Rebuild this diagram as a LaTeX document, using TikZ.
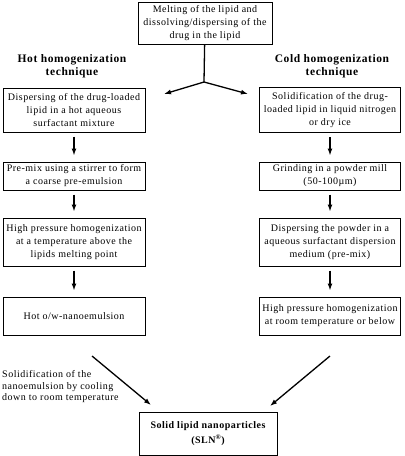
\documentclass[tikz,border=0pt]{standalone}
\usepackage{fontspec}
\setmainfont{Liberation Serif}[LetterSpace=5]
\usepackage{tikz}
\usetikzlibrary{calc,arrows.meta}

\tikzset{
  stage/.style={draw=black, line width=1pt, align=center, inner sep=1pt, font=\fontsize{10}{13}\selectfont},
  heading/.style={align=center, font=\bfseries\fontsize{11.5}{12.5}\selectfont},
  flow/.style={-{Latex[length=7pt,width=5pt]}, black, line width=1.3pt}
}

\begin{document}
\begin{tikzpicture}[x=1pt, y=-1pt]
  \useasboundingbox (0,0) rectangle (405,456);
  % Draw the starting box and the two headings
  \node[stage, minimum width=134pt, minimum height=42pt] (melt) at (205,23) {Melting of the lipid and\\dissolving/dispersing of the\\drug in the lipid};
  \node[heading] (hot) at (72,66) {Hot homogenization\\technique};
  \node[heading] (cold) at (332,66) {Cold homogenization\\technique};
  % Draw the split
  \coordinate (split) at (204,82);
  \coordinate (tohot) at (164,94);
  \coordinate (tocold) at (248,94);
  \draw[black, line width=1.3pt] (melt) -- (split);
  \draw[flow] (split) -- (tohot);
  \draw[flow] (split) -- (tocold);
  % Hot column
  \node[stage, minimum width=142pt, minimum height=44pt] (h1) at (74,110) {Dispersing of the drug-loaded\\lipid in a hot aqueous\\surfactant mixture};
  \node[stage, minimum width=142pt, minimum height=28pt] (h2) at (74,176) {Pre-mix using a stirrer to form\\a coarse pre-emulsion};
  \node[stage, minimum width=142pt, minimum height=48pt] (h3) at (74,242) {High pressure homogenization\\at a temperature above the\\lipids melting point};
  \node[stage, minimum width=142pt, minimum height=38pt] (h4) at (74,316) {Hot o/w-nanoemulsion};
  % Cold column
  \node[stage, minimum width=141pt, minimum height=45pt] (c1) at (330,110) {Solidification of the drug-\\loaded lipid in liquid nitrogen\\or dry ice};
  \node[stage, minimum width=141pt, minimum height=28pt] (c2) at (330,176) {Grinding in a powder mill\\(50-100\textmu m)};
  \node[stage, minimum width=141pt, minimum height=48pt] (c3) at (330,242) {Dispersing the powder in a\\aqueous surfactant dispersion\\medium (pre-mix)};
  \node[stage, minimum width=141pt, minimum height=38pt] (c4) at (330,316) {High pressure homogenization\\at room temperature or below};
  \foreach \a/\b in {h1/h2, h2/h3, h3/h4, c1/c2, c2/c3, c3/c4}
    \draw[flow, shorten <=4pt, shorten >=6pt] (\a) -- (\b);
  % Draw the end box
  \node[stage, minimum width=138pt, minimum height=43pt, font=\bfseries\fontsize{10}{14.5}\selectfont] (sln) at (208,433.5) {Solid lipid nanoparticles\\(SLN\textsuperscript{\textregistered})};
  \node[anchor=west, align=left, inner sep=0pt, font=\fontsize{10}{11.5}\selectfont] (cooling) at (2,387) {Solidification of the\\nanoemulsion by cooling\\down to room temperature};
  \coordinate (hotstart) at (92,356);
  \coordinate (hotend) at (151,405);
  \coordinate (coldstart) at (330,356);
  \coordinate (coldend) at (270,406);
  \draw[flow] (hotstart) -- (hotend);
  \draw[flow] (coldstart) -- (coldend);
\end{tikzpicture}
\end{document}
